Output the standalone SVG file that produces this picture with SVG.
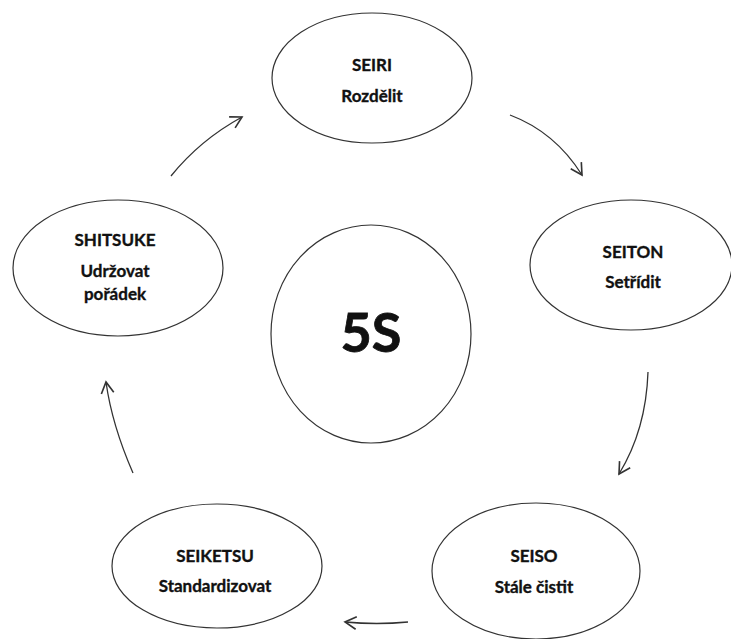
<svg xmlns="http://www.w3.org/2000/svg" width="731" height="639" viewBox="0 0 731 639">
  <style>
    .node ellipse { fill: #fff; stroke: #333; stroke-width: 1.2; }
    .lbl { font-family: Lato, "Liberation Sans", sans-serif; font-weight: bold; font-size: 17px; fill: #111; stroke: #111; stroke-width: 0.35; text-anchor: middle; }
    .big { font-family: Lato, "Liberation Sans", sans-serif; font-weight: bold; font-size: 54px; fill: #111; stroke: #111; stroke-width: 0.8; text-anchor: middle; }
    .conn path { fill: none; stroke: #333; stroke-width: 1.3; marker-end: url(#head); }
  </style>
  <defs>
    <marker id="head" markerUnits="userSpaceOnUse" markerWidth="20" markerHeight="20" refX="0" refY="0" viewBox="-12 -8 14 16" orient="auto">
      <path d="M-9,-5 L0,0 L-9,5" fill="none" stroke="#333" stroke-width="1.3"/>
    </marker>
  </defs>
  <rect width="731" height="639" fill="#fff"/>

  <!-- central hub -->
  <g id="center" class="node">
    <ellipse cx="371" cy="334" rx="100" ry="109"/>
    <text class="big" x="371" y="352">5S</text>
  </g>

  <g id="seiri" class="node">
    <ellipse cx="372" cy="78" rx="100" ry="65"/>
    <text class="lbl" x="372" y="71">SEIRI</text>
    <text class="lbl" x="372" y="102">Rozdělit</text>
  </g>

  <g id="seiton" class="node">
    <ellipse cx="631" cy="265" rx="101" ry="65"/>
    <text class="lbl" x="633" y="258">SEITON</text>
    <text class="lbl" x="633" y="288">Setřídit</text>
  </g>

  <g id="seiso" class="node">
    <ellipse cx="536" cy="571" rx="104" ry="68"/>
    <text class="lbl" x="534" y="562">SEISO</text>
    <text class="lbl" x="534" y="593">Stále čistit</text>
  </g>

  <g id="seiketsu" class="node">
    <ellipse cx="217" cy="566" rx="105" ry="62"/>
    <text class="lbl" x="215" y="562">SEIKETSU</text>
    <text class="lbl" x="215" y="592">Standardizovat</text>
  </g>

  <g id="shitsuke" class="node">
    <ellipse cx="118" cy="268" rx="105" ry="68"/>
    <text class="lbl" x="115" y="246">SHITSUKE</text>
    <text class="lbl" x="115" y="277">Udržovat</text>
    <text class="lbl" x="115" y="300">pořádek</text>
  </g>

  <!-- clockwise cycle arrows -->
  <g id="connectors" class="conn">
    <path d="M510,115 Q555,132 582,175"/>
    <path d="M648,372 Q646,430 619,474"/>
    <path d="M408,622 Q377,625 345,622"/>
    <path d="M133,473 Q112,425 106,382"/>
    <path d="M171,176 Q200,140 242,117"/>
  </g>
</svg>
